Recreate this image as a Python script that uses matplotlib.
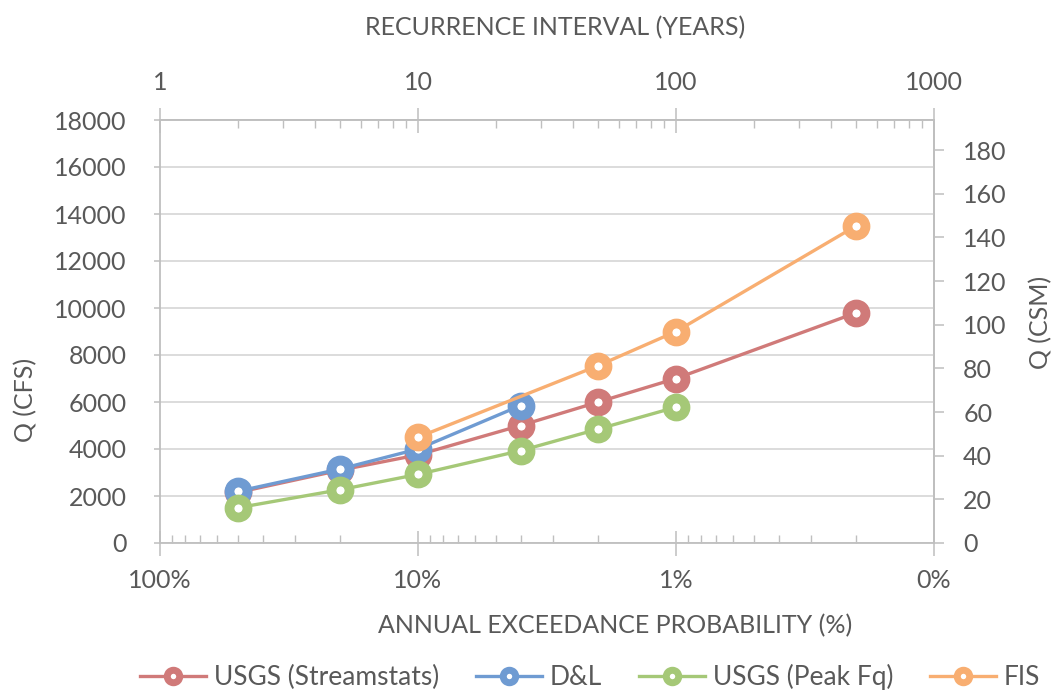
import matplotlib
matplotlib.use("Agg")
import matplotlib.pyplot as plt
from matplotlib.ticker import FixedLocator, FixedFormatter, NullFormatter

plt.rcParams['font.family'] = ['Lato', 'DejaVu Sans']

# Peak discharge estimates, Q (cfs), by recurrence interval (years)
streamstats_years = [2, 5, 10, 25, 50, 100, 500]
streamstats_q = [2150, 3100, 3750, 5000, 6000, 7000, 9800]

dl_years = [2, 5, 10, 25]
dl_q = [2200, 3150, 4000, 5850]

peakfq_years = [2, 5, 10, 25, 50, 100]
peakfq_q = [1500, 2270, 2920, 3930, 4850, 5780]

fis_years = [10, 50, 100, 500]
fis_q = [4500, 7550, 9000, 13500]

series_names = ["USGS (Streamstats)", "D&L", "USGS (Peak Fq)", "FIS"]
series_colors = ["#D07A79", "#6F9BD2", "#A5C877", "#F8AE71"]

# Drainage area used to convert cfs to csm (sq mi)
drainage_area = 92.9

q_ticks = [0, 2000, 4000, 6000, 8000, 10000, 12000, 14000, 16000, 18000]
csm_ticks = [0, 20, 40, 60, 80, 100, 120, 140, 160, 180]
ri_major = [1, 10, 100, 1000]
ri_labels = ["1", "10", "100", "1000"]
aep_labels = ["100%", "10%", "1%", "0%"]

text_color = "#595959"
axis_color = "#BFBFBF"
grid_color = "#D9D9D9"
fs = 18

fig = plt.figure(figsize=(10.55, 6.92), dpi=100)
ax = fig.add_axes([160 / 1055, 1 - 543 / 692, (934 - 160) / 1055, (543 - 120) / 692])

ax.set_xscale("log")
ax.set_xlim(1, 1000)
ax.set_ylim(0, 18000)

for s in ax.spines.values():
    s.set_color(axis_color)
    s.set_linewidth(1.3)

# horizontal gridlines
ax.yaxis.set_major_locator(FixedLocator(q_ticks))
ax.grid(axis="y", color=grid_color, linewidth=1.3, zorder=0)
ax.grid(axis="x", visible=False)
ax.set_axisbelow(True)

# left axis (cfs)
ax.tick_params(axis="y", which="major", direction="out", length=4, width=1.1,
               color=axis_color, labelsize=fs, labelcolor=text_color, pad=20)
ax.set_yticklabels([str(v) for v in q_ticks])

# bottom axis: annual exceedance probability (100/RI)
aep_minor = []
for dec in [1, 10, 100]:
    for p in [9, 8, 7, 6, 5, 4, 3, 2]:
        aep_minor.append(dec * 10 / p)
ax.xaxis.set_major_locator(FixedLocator(ri_major))
ax.xaxis.set_major_formatter(FixedFormatter(aep_labels))
ax.xaxis.set_minor_locator(FixedLocator(aep_minor))
ax.xaxis.set_minor_formatter(NullFormatter())
ax.tick_params(axis="x", which="major", direction="inout", length=18, width=1.1,
               color=axis_color, labelsize=fs, labelcolor=text_color, pad=10)
ax.tick_params(axis="x", which="minor", direction="in", length=6, width=1.0,
               color=axis_color)

# top axis: recurrence interval
top = ax.secondary_xaxis("top")
ri_minor = []
for dec in [1, 10, 100]:
    for m in range(2, 10):
        ri_minor.append(dec * m)
top.xaxis.set_major_locator(FixedLocator(ri_major))
top.xaxis.set_major_formatter(FixedFormatter(ri_labels))
top.xaxis.set_minor_locator(FixedLocator(ri_minor))
top.xaxis.set_minor_formatter(NullFormatter())
top.tick_params(axis="x", which="major", direction="inout", length=18, width=1.1,
                color=axis_color, labelsize=fs, labelcolor=text_color, pad=10)
top.tick_params(axis="x", which="minor", direction="in", length=6, width=1.0,
                color=axis_color)
top.spines["top"].set_color(axis_color)
top.spines["top"].set_linewidth(1.3)

# right axis: Q in csm
right = ax.secondary_yaxis("right", functions=(lambda q: q / drainage_area,
                                               lambda c: c * drainage_area))
right.yaxis.set_major_locator(FixedLocator(csm_ticks))
right.yaxis.set_major_formatter(FixedFormatter([str(v) for v in csm_ticks]))
right.tick_params(axis="y", which="major", direction="out", length=7, width=1.1,
                  color=axis_color, labelsize=fs, labelcolor=text_color, pad=14)
right.tick_params(axis="y", which="minor", length=0)
right.spines["right"].set_color(axis_color)
right.spines["right"].set_linewidth(1.3)

# data series
data = [(streamstats_years, streamstats_q), (dl_years, dl_q),
        (peakfq_years, peakfq_q), (fis_years, fis_q)]
for i, ((xs, ys), name, col) in enumerate(zip(data, series_names, series_colors)):
    ax.plot(xs, ys, color=col, linewidth=2.4, marker="o", markersize=13,
            markeredgewidth=7, markerfacecolor="white", markeredgecolor=col,
            label=name, zorder=3 + i, clip_on=False)

# axis titles
fig.text(555 / 1055, 1 - 28 / 692, "RECURRENCE INTERVAL (YEARS)", ha="center",
         va="center", fontsize=fs, color=text_color)
fig.text(615 / 1055, 1 - 626 / 692, "ANNUAL EXCEEDANCE PROBABILITY (%)", ha="center",
         va="center", fontsize=fs, color=text_color)
fig.text(26 / 1055, 1 - 400 / 692, "Q (CFS)", rotation=90, ha="center",
         va="center", fontsize=fs, color=text_color)
fig.text(1041 / 1055, 1 - 322 / 692, "Q (CSM)", rotation=90, ha="center",
         va="center", fontsize=fs, color=text_color)

# legend with smaller markers
leg_handles = []
for col in series_colors:
    lh, = plt.plot([], [], color=col, linewidth=2.4, marker="o", markersize=9,
                   markeredgewidth=5, markerfacecolor="white", markeredgecolor=col)
    leg_handles.append(lh)
fig.legend(leg_handles, series_names, loc="center", ncol=4,
           bbox_to_anchor=(590 / 1055, 1 - 677 / 692), frameon=False,
           fontsize=19, handlelength=2.5, columnspacing=1.4,
           handletextpad=0.3, labelcolor=text_color, borderpad=0)

fig.savefig("out.png", dpi=100, facecolor="white")
